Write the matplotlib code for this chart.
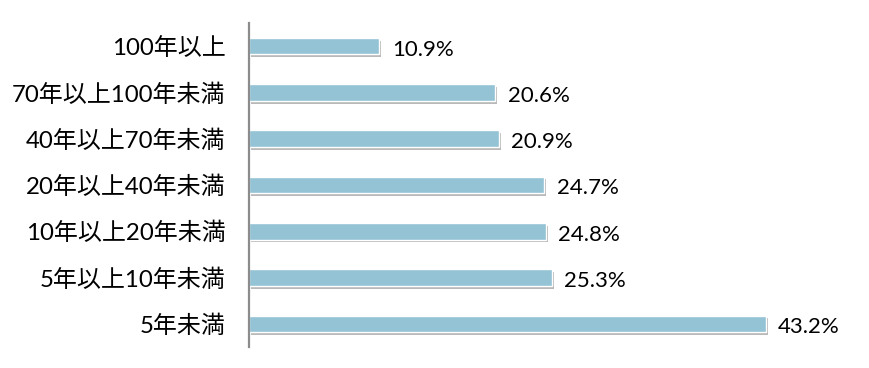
import matplotlib
matplotlib.use("Agg")
import matplotlib.pyplot as plt
import matplotlib.patheffects as pe

categories = ["100年以上", "70年以上100年未満", "40年以上70年未満", "20年以上40年未満",
              "10年以上20年未満", "5年以上10年未満", "5年未満"]
values = [10.9, 20.6, 20.9, 24.7, 24.8, 25.3, 43.2]
value_labels = ["10.9%", "20.6%", "20.9%", "24.7%", "24.8%", "25.3%", "43.2%"]

fams = ["Lato", "Noto Sans CJK JP", "DejaVu Sans"]
plt.rcParams["font.family"] = fams

fig = plt.figure(figsize=(8.7, 3.68), dpi=100)
ax = fig.add_axes([249/870, 21/368, 598/870, 324/368])

ypos = list(range(len(categories)))[::-1]
bars = ax.barh(ypos, values, height=0.36, color="#93C3D5", edgecolor="white", linewidth=1.0)
for b in bars:
    b.set_path_effects([pe.SimplePatchShadow(offset=(1.5, -2.0), shadow_rgbFace="#808080", alpha=0.55),
                        pe.Normal()])

for y, v, t in zip(ypos, values, value_labels):
    ax.annotate(t, (v, y), xytext=(9, -2.5), textcoords="offset points",
                va="center", ha="left", fontsize=16, color="#000000", family=fams)

ax.set_xlim(0, 50)
ax.set_ylim(-0.5, len(categories) - 0.5)
ax.set_yticks(ypos)
ax.set_yticklabels(categories, fontsize=17.3, color="#000000", family=fams)
ax.tick_params(axis="y", length=0, pad=17)
ax.set_xticks([])
for s in ["top", "right", "bottom"]:
    ax.spines[s].set_visible(False)
ax.spines["left"].set_color("#8c8c8c")
ax.spines["left"].set_linewidth(1.6)

fig.savefig("out.png", dpi=100)
